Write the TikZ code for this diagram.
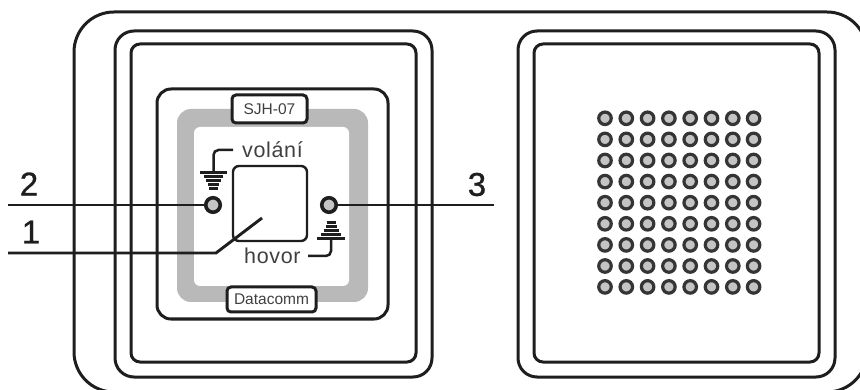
\documentclass[tikz,border=0pt]{standalone}
\usepackage{fontspec}
\setmainfont{Liberation Sans}
\newfontfamily\digitface[FakeBold=0.8]{Liberation Sans}
\newfontfamily\capface[LetterSpace=3]{Liberation Sans}
\definecolor{ink}{HTML}{1E1E1E}
\definecolor{band}{HTML}{B9B9B9}
\definecolor{dotgray}{HTML}{C4C4C4}
\tikzset{
  frameline/.style={draw=ink,line width=3pt,fill=white,inner sep=0pt,outer sep=0pt},
  panel/.style={frameline,anchor=north west},
  labelbox/.style={draw=ink,line width=3pt,fill=white,rounded corners=4pt,inner sep=0pt,outer sep=0pt,font=\fontsize{15.5}{17}\selectfont,text=ink!85},
  jack/.style={circle,draw=ink,line width=3.6pt,fill=dotgray,minimum size=14.5pt,inner sep=0pt,outer sep=1.8pt},
  hole/.style={circle,draw=ink!90,line width=3.2pt,fill=dotgray,minimum size=12.5pt,inner sep=0pt},
  leader/.style={draw=ink,line width=2.9pt},
  wire/.style={draw=ink,line width=2.5pt,rounded corners=5pt},
  bar/.style={draw=ink,line width=3pt},
  digit/.style={font=\fontsize{33}{36}\digitface\selectfont,text=ink,inner sep=0pt},
  caption/.style={font=\fontsize{21.5}{24}\capface\selectfont,text=ink!85,inner sep=0pt}
}
\newcommand{\panelat}[6]{% name, x0,y0,x1,y1, radius
  \pgfmathsetmacro{\pw}{#4-#2}\pgfmathsetmacro{\ph}{#5-#3}
  \node[panel,rounded corners=#6pt,minimum width=\pw pt,minimum height=\ph pt] (#1) at (#2,#3) {};
}
\begin{document}
\begin{tikzpicture}[x=1pt,y=-1pt]
\useasboundingbox (0,0) rectangle (860,390);
% enclosure
\panelat{outer}{74}{12}{867}{392}{40}
\panelat{leftframe}{115}{31}{432}{377}{19}
\panelat{leftinner}{131}{44}{416}{362}{9}
\panelat{rightframe}{518}{31}{835}{377}{19}
\panelat{rightinner}{534}{44}{819}{362}{9}
% keypad plate
\panelat{plate}{157}{89}{388}{319}{14}
\node[anchor=north west,fill=band,rounded corners=14pt,minimum width=191pt,minimum height=193pt,inner sep=0pt,outer sep=0pt] (bandouter) at (177,109) {};
\node[anchor=north west,fill=white,rounded corners=6pt,minimum width=155pt,minimum height=159pt,inner sep=0pt,outer sep=0pt] (bandinner) at (194,127) {};
\node[labelbox,minimum width=75pt,minimum height=28pt] (sjh) at (269.5,109) {SJH-07};
\node[labelbox,minimum width=89pt,minimum height=25pt] (datacomm) at (271.5,299.5) {Datacomm};
\node[anchor=north west,draw=ink,line width=2.4pt,fill=white,rounded corners=6pt,minimum width=74pt,minimum height=75pt,inner sep=0pt,outer sep=0pt] (button) at (233,166) {};
% jacks
\node[jack] (jackL) at (213,205) {};
\node[jack] (jackR) at (329,205) {};
% captions
\node[caption,anchor=west] (volani) at (242,150) {volání};
\node[caption,anchor=west] (hovor) at (244,256) {hovor};
% ground symbols
\coordinate (gndLtop) at (213.5,172);
\coordinate (gndRbot) at (331,239);
\draw[wire] (233,150) -- (213.5,150) -- (gndLtop);
\draw[wire] (308,256) -- (331,256) -- (gndRbot);
\draw[bar] (200,172.5) -- (227,172.5);
\draw[bar] (204,176.5) -- (223,176.5);
\draw[bar] (206,180.5) -- (221,180.5);
\draw[bar] (208,184.5) -- (219,184.5);
\draw[bar] (209,188.5) -- (218,188.5);
\draw[bar] (317,238.5) -- (345,238.5);
\draw[bar] (321,234.5) -- (341,234.5);
\draw[bar] (323.5,230.5) -- (338.5,230.5);
\draw[bar] (325.5,226.5) -- (336.5,226.5);
\draw[bar] (326.5,222.5) -- (335.5,222.5);
% speaker holes
\foreach \r [count=\ri] in {118.3,139.4,160.5,181.6,202.7,223.8,244.9,266,286.9}{
  \foreach \c [count=\ci] in {605,626.3,647.6,668.9,690.2,711.5,732.8,753.6}{
    \node[hole] (hole-\ri-\ci) at (\c,\r) {};
  }
}
% leaders and numbers
\coordinate (endTwo) at (8,205);
\coordinate (endThree) at (494,205);
\coordinate (endOne) at (8,253);
\coordinate (kneeOne) at (216,253);
\coordinate (tipOne) at (262,218);
\draw[leader] (endTwo) -- (jackL);
\draw[leader] (jackR) -- (endThree);
\draw[leader] (endOne) -- (kneeOne) -- (tipOne);
\node[digit] (numTwo) at (29,184) {2};
\node[digit] (numOne) at (31,232) {1};
\node[digit] (numThree) at (477,184.5) {3};
\end{tikzpicture}
\end{document}
